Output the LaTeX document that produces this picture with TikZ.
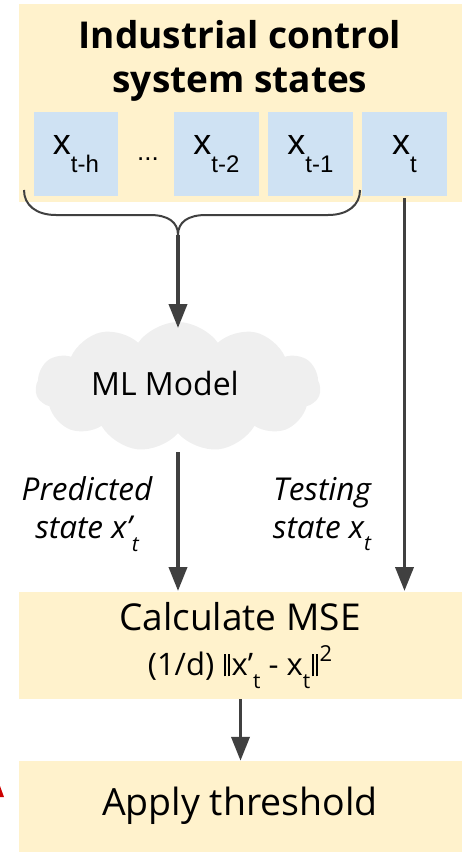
\documentclass[tikz,border=0pt]{standalone}
\usepackage{fontspec}
\setmainfont{Open Sans}
\newfontfamily\arialf{Liberation Sans}
\usetikzlibrary{shapes.symbols,arrows.meta}
\definecolor{ylw}{HTML}{FFF2CC}
\definecolor{blu}{HTML}{CFE2F3}
\definecolor{cld}{HTML}{EFEFEF}
\definecolor{arr}{HTML}{404040}
\definecolor{redm}{HTML}{CC0000}
\newcommand{\xsub}[1]{x\raisebox{-0.5em}{\fontsize{24}{24}\selectfont #1}}
\newcommand{\isub}[1]{\raisebox{-0.4em}{\fontsize{21}{21}\selectfont #1}}
\newcommand{\dbar}{\kern0.06em\rule[-0.02em]{0.055em}{0.72em}\kern0.07em\rule[-0.02em]{0.055em}{0.72em}\kern0.06em}
\tikzset{
  ybox/.style={rectangle,fill=ylw,inner sep=0pt,minimum width=443pt},
  bbox/.style={rectangle,fill=blu,inner sep=0pt,minimum width=84.5pt,minimum height=84pt,font=\arialf\fontsize{36}{36}\selectfont},
  conn/.style={draw=arr,line width=3.8pt,-{Triangle[width=18pt,length=24pt]}},
  bracel/.style={draw=arr,line width=2pt},
  lbl/.style={font=\itshape\fontsize{31.5}{38}\selectfont,align=center,inner sep=0pt}
}
\begin{document}
\begin{tikzpicture}[x=1pt,y=-1pt]
\useasboundingbox (0,0) rectangle (464,852);
% top box
\node[ybox,minimum height=198pt] (top) at (240.5,103) {};
\node[align=center,font=\bfseries\fontsize{37}{44}\selectfont,inner sep=0pt] (title) at (240,61) {Industrial control\\system states};
\node[bbox] (b1) at (76,154) {\xsub{t-h}};
\node[inner sep=0pt,font=\arialf\fontsize{26}{26}\selectfont] (dots) at (148,159) {...};
\node[bbox] (b2) at (216.5,154) {\xsub{t-2}};
\node[bbox] (b3) at (310.5,154) {\xsub{t-1}};
\node[bbox] (b4) at (404.5,154) {\xsub{t}};
% brace
\coordinate (bl) at (24,190);
\coordinate (br) at (360,190);
\coordinate (cusp) at (178,235);
\draw[bracel] (bl) .. controls (24,205) and (36,215) .. (56,215) -- (150,215) .. controls (168,215) and (178,222) .. (cusp);
\draw[bracel] (br) .. controls (360,205) and (348,215) .. (328,215) -- (206,215) .. controls (188,215) and (178,222) .. (cusp);
% cloud
\node[cloud,cloud puffs=11,cloud puff arc=110,aspect=2.3,fill=cld,minimum width=285pt,minimum height=130pt,inner sep=0pt] (cl) at (178,387) {};
\node[font=\fontsize{32}{32}\selectfont,inner sep=0pt] (mltext) at (165,383) {ML Model};
% MSE box
\node[ybox,minimum height=107pt] (mse) at (240.5,645.5) {};
\node[font=\fontsize{37}{37}\selectfont,inner sep=0pt] (mset) at (240,617) {Calculate MSE};
\node[font=\fontsize{31}{31}\selectfont,inner sep=0pt] (msef) at (240,667) {(1/d) \dbar x’\isub{t} - x\isub{t}\dbar\raisebox{0.45em}{\fontsize{22}{22}\selectfont 2}};
% threshold box
\node[ybox,minimum height=91pt] (thr) at (240.5,806.5) {};
\node[font=\fontsize{37.5}{37.5}\selectfont,inner sep=0pt] (thrt) at (240,806) {Apply threshold};
% labels
\node[lbl] (pred) at (87,514) {Predicted\\state x’\isub{t}};
\node[lbl] (test) at (322,514) {Testing\\state x\isub{t}};
% connectors
\draw[conn] (cusp) -- (cusp |- 0,328);
\draw[conn] (178,452) -- (178,591);
\draw[conn] (b4.south) ++(0,2) -- (404.5,591);
\draw[conn] (mse.south) -- (thr.north);
% red fragment
\fill[redm] (0,786) -- (4,797) -- (0,797) -- cycle;
\end{tikzpicture}
\end{document}
